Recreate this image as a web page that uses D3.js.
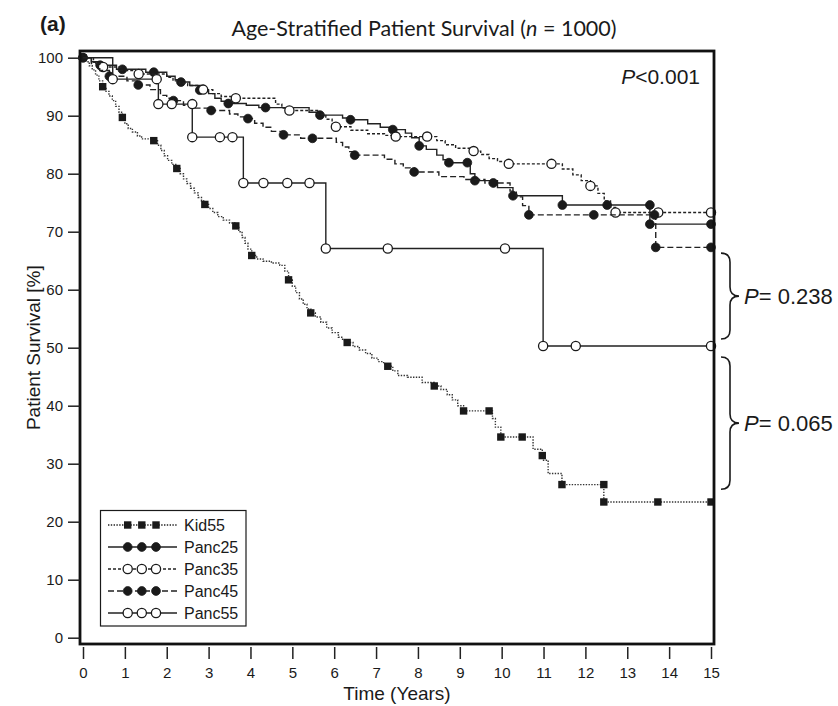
<!DOCTYPE html>
<html>
  <head>
    <meta charset="utf-8">
    <style>
    body { margin: 0; background: #fff; }
    svg text { font-family: "Liberation Sans", Arial, sans-serif; fill: #1a1a1a; }
    .title { font-family: Lato, "Open Sans", sans-serif; }
    .axis line { stroke: #222; stroke-width: 1.5px; }
    </style>
  </head>
  <body>
    <div id="chart-area"></div>

    <script src="https://cdn.jsdelivr.net/npm/d3@7"></script>
    <script>
      // Kaplan-Meier steps: [time (years), survival % after the drop]
      const kid55 = [
        [0.08,99.3],[0.15,98.6],[0.22,97.9],[0.30,97.0],[0.38,96.0],[0.47,95.0],
        [0.55,94.2],[0.62,93.4],[0.70,92.6],[0.78,91.6],[0.86,90.6],[0.94,89.7],
        [1.00,88.6],[1.08,87.8],[1.18,87.2],[1.30,86.5],[1.40,86.0],[1.69,85.7],
        [1.78,84.9],[1.86,84.0],[1.94,83.1],[2.02,82.3],[2.12,81.6],[2.24,80.9],
        [2.32,80.0],[2.40,79.1],[2.48,78.3],[2.57,77.5],[2.66,76.7],[2.75,75.9],[2.83,75.3],[2.91,74.7],
        [3.00,74.0],[3.10,73.3],[3.22,72.6],[3.35,72.0],[3.50,71.5],[3.65,71.0],
        [3.72,70.0],[3.80,69.0],[3.87,68.0],[3.94,67.0],[4.03,65.9],
        [4.15,65.3],[4.30,64.9],[4.50,64.6],[4.70,64.2],[4.82,63.2],[4.91,61.7],
        [5.00,60.6],[5.08,59.5],[5.17,58.4],[5.26,57.5],[5.35,56.7],[5.44,56.0],
        [5.55,55.3],[5.68,54.4],[5.82,53.4],[5.95,52.6],[6.10,51.8],[6.20,51.3],[6.31,50.9],
        [6.45,50.2],[6.60,49.6],[6.75,49.0],[6.90,48.2],[7.05,47.6],[7.18,47.2],[7.28,46.8],
        [7.40,46.0],[7.52,45.2],[7.75,44.9],[8.10,44.0],[8.39,43.4],
        [8.55,42.8],[8.70,41.9],[8.82,41.0],[8.95,40.0],[9.09,39.1],
        [9.78,37.8],[9.85,36.3],[9.98,34.6],
        [10.75,32.5],[10.97,31.4],[11.00,30.6],[11.11,28.3],[11.44,26.4],[12.44,23.4]
      ];
      const kid55Marks = [
        [0,100],[0.47,95.0],[0.94,89.7],[1.69,85.7],[2.24,80.9],[2.91,74.7],[3.65,71.0],
        [4.03,65.9],[4.91,61.7],[5.44,56.0],[6.31,50.9],[7.28,46.8],[8.39,43.4],[9.09,39.1],
        [9.70,39.1],[9.98,34.6],[10.49,34.6],[10.97,31.4],[11.44,26.4],[12.44,26.4],
        [12.44,23.4],[13.73,23.4],[15,23.4]
      ];

      const panc25 = [
        [0.20,99.3],[0.41,98.7],[0.80,98.0],[1.50,97.5],[2.00,96.8],[2.20,96.2],[2.34,95.8],
        [2.55,95.2],[2.79,94.4],[3.00,93.8],[3.15,93.0],[3.30,92.5],[3.47,92.1],[3.90,91.8],
        [4.20,91.4],[5.40,90.6],[5.66,90.1],[6.20,89.6],[6.39,89.3],[6.80,88.6],[7.10,88.0],
        [7.40,87.6],[7.70,87.0],[7.85,86.2],[8.03,84.8],[8.20,84.2],[8.45,83.2],[8.60,82.4],
        [8.74,81.9],[9.25,80.0],[9.36,78.8],[9.90,77.6],[10.27,76.2],[11.45,74.6],[13.54,71.3]
      ];
      const panc25Marks = [
        [0,100],[0.41,98.7],[0.94,98.0],[1.69,97.5],[2.34,95.8],[2.79,94.4],[3.47,92.1],
        [4.36,91.4],[5.66,90.1],[6.39,89.3],[7.40,87.6],[8.03,84.8],[8.74,81.9],[9.18,81.9],
        [9.36,78.8],[10.27,76.2],[11.45,74.6],[12.52,74.6],[13.54,74.6],[13.54,71.3],[15,71.3]
      ];

      const panc35 = [
        [0.25,99.2],[0.48,98.4],[0.90,97.8],[1.33,97.2],[2.00,96.6],[2.15,96.0],[2.30,95.6],
        [2.50,95.2],[2.87,94.5],[3.10,93.8],[3.30,93.3],[3.65,93.0],[4.60,92.0],[4.75,91.3],
        [4.93,90.9],[5.60,90.2],[5.80,89.4],[5.95,88.6],[6.04,88.1],[6.40,87.5],[6.80,86.9],
        [7.20,86.6],[7.47,86.4],[8.45,85.7],[8.65,85.0],[8.90,84.4],[9.33,83.9],[9.50,83.3],
        [9.70,82.6],[9.90,82.1],[10.17,81.7],[11.45,80.8],[11.70,79.8],[11.90,78.8],
        [12.12,77.9],[12.30,76.6],[12.45,75.3],[12.60,74.2],[12.72,73.3]
      ];
      const panc35Marks = [
        [0.48,98.4],[1.33,97.2],[2.87,94.5],[3.65,93.0],[4.93,90.9],[6.04,88.1],[7.47,86.4],
        [8.22,86.4],[9.33,83.9],[10.17,81.7],[11.19,81.7],[12.12,77.9],[12.72,73.3],
        [13.74,73.3],[15,73.3]
      ];

      const panc45 = [
        [0.20,99.0],[0.40,97.8],[0.63,96.8],[1.05,96.0],[1.32,95.3],[1.60,94.5],[1.85,93.5],
        [2.00,93.0],[2.16,92.6],[2.40,91.8],[2.60,91.3],[3.06,90.9],[3.50,90.3],[3.70,89.8],
        [3.94,89.5],[4.10,88.7],[4.30,88.0],[4.50,87.3],[4.79,86.7],[5.20,86.1],[6.05,85.4],
        [6.20,84.6],[6.35,83.8],[6.49,83.2],[7.20,82.5],[7.45,81.7],[7.65,81.0],[7.91,80.3],
        [8.50,79.5],[9.10,79.0],[9.60,78.4],[10.20,77.0],[10.35,76.0],[10.50,74.5],
        [10.65,72.9],[13.68,67.3]
      ];
      const panc45Marks = [
        [0,100],[0.63,96.8],[1.32,95.3],[2.16,92.6],[3.06,90.9],[3.94,89.5],[4.79,86.7],
        [5.48,86.1],[6.49,83.2],[7.91,80.3],[9.80,78.4],[10.65,72.9],[12.20,72.9],
        [13.65,72.9],[13.68,67.3],[15,67.3]
      ];

      const panc55 = [
        [0.71,96.3],[1.80,92.0],[2.61,86.3],[3.83,78.4],[5.80,67.1],[10.99,50.3]
      ];
      const panc55Marks = [
        [0.71,96.3],[1.76,96.3],[1.80,92.0],[2.12,92.0],[2.61,92.0],[2.61,86.3],[3.27,86.3],
        [3.57,86.3],[3.83,78.4],[4.31,78.4],[4.88,78.4],[5.41,78.4],[5.80,67.1],[7.28,67.1],
        [10.08,67.1],[10.99,50.3],[11.77,50.3],[15,50.3]
      ];

      const xTicks = d3.range(0, 16);
      const yTicks = d3.range(0, 101, 10);

      // pairwise tests shown with braces: [upper %, lower %, p value]
      const braces = [[66.3, 51.5, "0.238"], [48.4, 25.6, "0.065"]];

      const series = [
        { name: "Kid55",  steps: kid55,  marks: kid55Marks,  dash: "1.4,1.4", shape: "square", filled: true },
        { name: "Panc25", steps: panc25, marks: panc25Marks, dash: null,      shape: "circle", filled: true },
        { name: "Panc35", steps: panc35, marks: panc35Marks, dash: "3,2",     shape: "circle", filled: false },
        { name: "Panc45", steps: panc45, marks: panc45Marks, dash: "6,3",     shape: "circle", filled: true },
        { name: "Panc55", steps: panc55, marks: panc55Marks, dash: null,      shape: "circle", filled: false }
      ];

      const width = 838;
      const height = 706;
      const frame = { left: 80, top: 51, right: 714, bottom: 644 };

      const svg = d3.select("#chart-area")
        .append("svg")
          .attr("width", width)
          .attr("height", height);

      const x = d3.scaleLinear().domain([0, 15]).range([83, 711]);
      const y = d3.scaleLinear().domain([0, 100]).range([637.7, 57.7]);

      const line = d3.line()
        .x(d => x(d[0]))
        .y(d => y(d[1]))
        .curve(d3.curveStepAfter);

      function drawMark(g, shape, filled, cx, cy) {
        if (shape === "square") {
          g.append("rect")
            .attr("x", cx - 3.7).attr("y", cy - 3.7)
            .attr("width", 7.4).attr("height", 7.4)
            .attr("fill", "#1a1a1a");
        } else {
          g.append("circle")
            .attr("cx", cx).attr("cy", cy)
            .attr("r", filled ? 4.4 : 4.6)
            .attr("fill", filled ? "#1a1a1a" : "#fff")
            .attr("stroke", "#1a1a1a")
            .attr("stroke-width", filled ? 0.8 : 1.3);
        }
      }

      // curves
      series.forEach(s => {
        const last = s.steps[s.steps.length - 1];
        const pts = [[0, 100]].concat(s.steps, [[15, last[1]]]);
        const g = svg.append("g");
        g.append("path")
          .attr("d", line(pts))
          .attr("fill", "none")
          .attr("stroke", s.name === "Kid55" ? "#333" : "#222")
          .attr("stroke-width", 1.4)
          .attr("stroke-dasharray", s.dash);
        s.marks.forEach(m => drawMark(g, s.shape, s.filled, x(m[0]), y(m[1])));
      });

      // plot box
      svg.append("rect")
        .attr("x", frame.left)
        .attr("y", frame.top)
        .attr("width", frame.right - frame.left)
        .attr("height", frame.bottom - frame.top)
        .attr("fill", "none")
        .attr("stroke", "#111")
        .attr("stroke-width", 2.8);

      // axes
      svg.append("g")
        .attr("class", "axis")
        .attr("transform", `translate(0, ${frame.bottom + 3})`)
        .call(d3.axisBottom(x).tickValues(xTicks).tickSize(12).tickPadding(8))
        .call(g => g.select(".domain").remove())
        .call(g => g.selectAll("text").attr("font-size", 15).attr("font-family", null));

      svg.append("g")
        .attr("class", "axis")
        .attr("transform", `translate(${frame.left}, 0)`)
        .call(d3.axisLeft(y).tickValues(yTicks).tickSize(12).tickPadding(5))
        .call(g => g.select(".domain").remove())
        .call(g => g.selectAll("text").attr("font-size", 15).attr("font-family", null));

      svg.append("text")
        .attr("x", (x(0) + x(15)) / 2)
        .attr("y", 700)
        .attr("text-anchor", "middle")
        .attr("font-size", 19)
        .text("Time (Years)");

      svg.append("text")
        .attr("transform", `translate(40, ${y(50)}) rotate(-90)`)
        .attr("text-anchor", "middle")
        .attr("font-size", 19)
        .text("Patient Survival [%]");

      // titles
      svg.append("text")
        .attr("x", 40)
        .attr("y", 31)
        .attr("font-size", 21)
        .attr("font-weight", "bold")
        .text("(a)");

      const title = svg.append("text")
        .attr("class", "title")
        .attr("x", 424)
        .attr("y", 36)
        .attr("text-anchor", "middle")
        .attr("font-size", 21.5);
      title.append("tspan").text("Age-Stratified Patient Survival (");
      title.append("tspan").attr("font-style", "italic").text("n");
      title.append("tspan").text(" = 1000)");

      const pAll = svg.append("text")
        .attr("x", 700)
        .attr("y", 84)
        .attr("text-anchor", "end")
        .attr("font-size", 21);
      pAll.append("tspan").attr("font-style", "italic").text("P");
      pAll.append("tspan").text("<0.001");

      // braces with pairwise p values
      braces.forEach(b => {
        const y0 = y(b[0]);
        const y1 = y(b[1]);
        const ym = (y0 + y1) / 2;
        const x0 = 721, xs = 730, xt = 739, r = 9;
        svg.append("path")
          .attr("d", `M${x0},${y0} Q${xs},${y0} ${xs},${y0 + r} L${xs},${ym - r} ` +
                     `Q${xs},${ym} ${xt},${ym} Q${xs},${ym} ${xs},${ym + r} ` +
                     `L${xs},${y1 - r} Q${xs},${y1} ${x0},${y1}`)
          .attr("fill", "none")
          .attr("stroke", "#1a1a1a")
          .attr("stroke-width", 1.6);
        const t = svg.append("text")
          .attr("x", 744)
          .attr("y", ym + 8)
          .attr("font-size", 22);
        t.append("tspan").attr("font-style", "italic").text("P");
        t.append("tspan").text("= " + b[2]);
      });

      // legend
      const legend = svg.append("g");
      legend.append("rect")
        .attr("x", 100.5)
        .attr("y", 510.5)
        .attr("width", 145.5)
        .attr("height", 115.5)
        .attr("fill", "#fff")
        .attr("stroke", "#1a1a1a")
        .attr("stroke-width", 1.2);

      series.forEach((s, i) => {
        const ly = 525 + i * 22;
        legend.append("line")
          .attr("x1", 108).attr("x2", 177)
          .attr("y1", ly).attr("y2", ly)
          .attr("stroke", "#222")
          .attr("stroke-width", 1.4)
          .attr("stroke-dasharray", s.dash);
        [127.7, 141.8, 156].forEach(mx => drawMark(legend, s.shape, s.filled, mx, ly));
        legend.append("text")
          .attr("x", 184)
          .attr("y", ly)
          .attr("dy", "0.36em")
          .attr("font-size", 16)
          .text(s.name);
      });
    </script>
  </body>
</html>
